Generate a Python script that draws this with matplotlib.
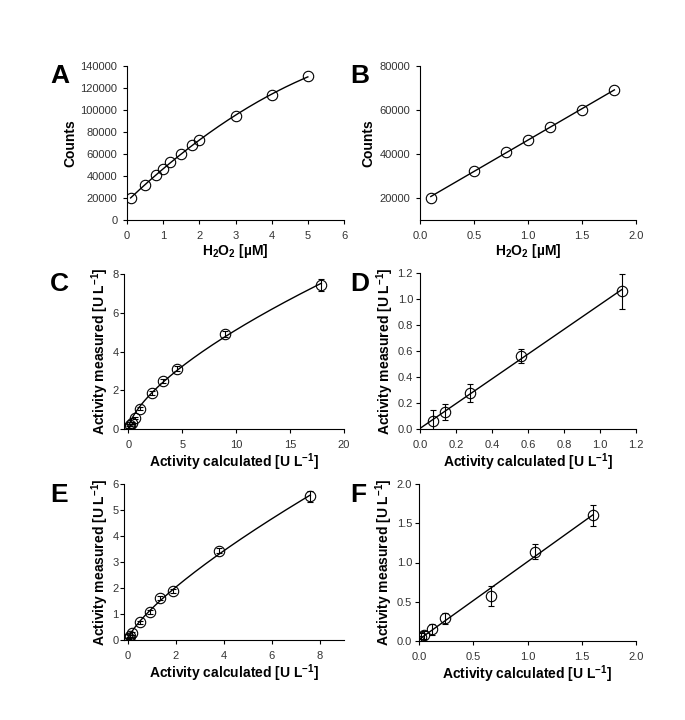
"""
plot.py - six calibration / recovery panels (A-F) with fitted curves.
"""
import numpy as np
import matplotlib
matplotlib.use("Agg")
import matplotlib.pyplot as plt

plt.rcParams["font.family"] = ["Liberation Sans", "DejaVu Sans"]
plt.rcParams["mathtext.fontset"] = "custom"
plt.rcParams["mathtext.rm"] = "Liberation Sans"
plt.rcParams["mathtext.bf"] = "Liberation Sans:bold"

# A: H2O2 calibration, wide range
a_x = [0.1, 0.5, 0.8, 1.0, 1.2, 1.5, 1.8, 2.0, 3.0, 4.0, 5.0]
a_y = [20000, 32000, 40500, 46500, 52500, 60000, 68500, 73000, 94500, 114000, 130500]

# B: H2O2 calibration, narrow range
b_x = [0.1, 0.5, 0.8, 1.0, 1.2, 1.5, 1.8]
b_y = [20000, 32500, 41000, 46500, 52500, 60000, 69000]

# C: measured vs calculated activity
c_x = [0.0, 0.1, 0.2, 0.3, 0.6, 1.1, 2.2, 3.2, 4.5, 9.0, 17.9]
c_y = [0.02, 0.1, 0.2, 0.32, 0.58, 1.05, 1.85, 2.48, 3.12, 4.9, 7.42]
c_err = [0.05, 0.05, 0.05, 0.05, 0.06, 0.08, 0.1, 0.1, 0.12, 0.15, 0.3]

# D
d_x = [0.07, 0.14, 0.28, 0.56, 1.12]
d_y = [0.06, 0.13, 0.28, 0.56, 1.06]
d_err = [0.09, 0.06, 0.07, 0.055, 0.135]

# E
e_x = [0.0, 0.05, 0.1, 0.2, 0.5, 0.95, 1.35, 1.9, 3.8, 7.6]
e_y = [0.02, 0.06, 0.15, 0.26, 0.68, 1.07, 1.6, 1.87, 3.43, 5.52]
e_err = [0.04, 0.04, 0.05, 0.05, 0.07, 0.08, 0.08, 0.08, 0.1, 0.2]

# F
f_x = [0.0, 0.02, 0.05, 0.12, 0.24, 0.66, 1.07, 1.6]
f_y = [0.0, 0.05, 0.08, 0.15, 0.29, 0.57, 1.14, 1.6]
f_err = [0.02, 0.05, 0.05, 0.07, 0.07, 0.13, 0.1, 0.13]

H2O2_LABEL = r"H$_\mathbf{2}$O$_\mathbf{2}$ [µM]"
CALC_LABEL = r"Activity calculated [U L$^\mathbf{-1}$]"
MEAS_LABEL = r"Activity measured [U L$^\mathbf{-1}$]"

W, H = 685, 720


def make_ax(fig, left, top, right, bottom, ypad):
    ax = fig.add_axes([left / W, 1 - bottom / H, (right - left) / W, (bottom - top) / H])
    ax.spines["top"].set_visible(False)
    ax.spines["right"].set_visible(False)
    ax.tick_params(direction="out", length=3, width=0.8, labelsize=8,
                   labelcolor="#333333")
    ax.tick_params(axis="x", pad=5)
    ax.tick_params(axis="y", pad=ypad)
    ax._box = (left, top, right, bottom)
    return ax


def markers(ax, x, y, err=None):
    ax.errorbar(x, y, yerr=err, fmt="o", ms=7.5, mfc="none", mec="black", mew=0.8,
                ecolor="black", elinewidth=0.8, capsize=2.5, capthick=0.8, zorder=3)


def label(fig, ax, letter, xl, yl, lx, ly, ylx):
    ax.set_xlabel(xl, fontsize=10, fontweight="bold", labelpad=1)
    left, top, right, bottom = ax._box
    yc = (top + bottom) / 2
    fig.text(ylx / W, 1 - yc / H, yl, fontsize=10, fontweight="bold",
             rotation=90, ha="center", va="center", rotation_mode="anchor")
    fig.text(lx / W, 1 - ly / H, letter, fontsize=19, fontweight="bold",
             ha="left", va="top")


def power_curve(ax, x, y):
    # power fit, weighted so the large values dominate as in a linear-space fit
    px = np.array(x[1:])
    py = np.array(y[1:])
    b, la = np.polyfit(np.log(px), np.log(py), 1, w=py)
    xs = np.linspace(0, max(x), 300)
    ax.plot(xs, np.exp(la) * xs ** b, color="black", lw=1)


def main():
    fig = plt.figure(figsize=(W / 100, H / 100), dpi=100)

    # A - quadratic fit through the points
    ax = make_ax(fig, 127, 66, 344, 220, 4)
    coef = np.polyfit(a_x, a_y, 2)
    xs = np.linspace(min(a_x), max(a_x), 200)
    ax.plot(xs, np.polyval(coef, xs), color="black", lw=1)
    markers(ax, a_x, a_y)
    ax.set_xlim(0, 6)
    ax.set_ylim(0, 140000)
    ax.set_xticks(range(0, 7))
    ax.set_yticks(range(0, 140001, 20000))
    label(fig, ax, "A", H2O2_LABEL, "Counts", 50, 64, 70)

    # B - linear fit
    ax = make_ax(fig, 420, 66, 636, 220, 4)
    coef = np.polyfit(b_x, b_y, 1)
    xs = np.linspace(min(b_x), max(b_x), 50)
    ax.plot(xs, np.polyval(coef, xs), color="black", lw=1)
    markers(ax, b_x, b_y)
    ax.set_xlim(0, 2.0)
    ax.set_ylim(10000, 80000)
    ax.set_xticks(np.arange(0, 2.01, 0.5))
    ax.set_xticklabels([f"{v:.1f}" for v in np.arange(0, 2.01, 0.5)])
    ax.set_yticks(range(20000, 80001, 20000))
    label(fig, ax, "B", H2O2_LABEL, "Counts", 350, 64, 368)

    # C - power fit
    ax = make_ax(fig, 124, 274, 344, 429, 1)
    power_curve(ax, c_x, c_y)
    markers(ax, c_x, c_y, c_err)
    ax.set_xlim(-0.4, 20)
    ax.set_ylim(0, 8)
    ax.set_xticks(range(0, 21, 5))
    ax.set_yticks(range(0, 9, 2))
    label(fig, ax, "C", CALC_LABEL, MEAS_LABEL, 50, 272, 100)

    # D - linear fit
    ax = make_ax(fig, 420, 273, 636, 429, 2)
    coef = np.polyfit(d_x, d_y, 1)
    xs = np.linspace(0, max(d_x), 50)
    ax.plot(xs, np.polyval(coef, xs), color="black", lw=1)
    markers(ax, d_x, d_y, d_err)
    ax.set_xlim(0, 1.2)
    ax.set_ylim(0, 1.2)
    ticks = np.arange(0, 1.21, 0.2)
    ax.set_xticks(ticks)
    ax.set_xticklabels([f"{v:.1f}" for v in ticks])
    ax.set_yticks(ticks)
    ax.set_yticklabels([f"{v:.1f}" for v in ticks])
    label(fig, ax, "D", CALC_LABEL, MEAS_LABEL, 350, 272, 385)

    # E - power fit
    ax = make_ax(fig, 124, 484, 344, 640, 1)
    power_curve(ax, e_x, e_y)
    markers(ax, e_x, e_y, e_err)
    ax.set_xlim(-0.15, 9)
    ax.set_ylim(0, 6)
    ax.set_xticks(range(0, 9, 2))
    ax.set_yticks(range(0, 7))
    label(fig, ax, "E", CALC_LABEL, MEAS_LABEL, 50, 483, 100)

    # F - linear fit
    ax = make_ax(fig, 419, 484, 636, 641, 2)
    coef = np.polyfit(f_x, f_y, 1)
    xs = np.linspace(0, max(f_x), 50)
    ax.plot(xs, np.polyval(coef, xs), color="black", lw=1)
    markers(ax, f_x, f_y, f_err)
    ax.set_xlim(0, 2.0)
    ax.set_ylim(0, 2.0)
    ticks = np.arange(0, 2.01, 0.5)
    ax.set_xticks(ticks)
    ax.set_xticklabels([f"{v:.1f}" for v in ticks])
    ax.set_yticks(ticks)
    ax.set_yticklabels([f"{v:.1f}" for v in ticks])
    label(fig, ax, "F", CALC_LABEL, MEAS_LABEL, 350, 483, 384)

    fig.savefig("out.png", dpi=100)
    plt.close(fig)


if __name__ == "__main__":
    main()
